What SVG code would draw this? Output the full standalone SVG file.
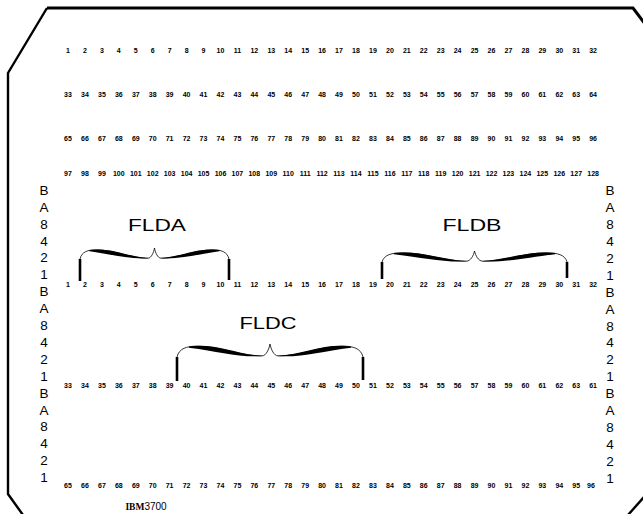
<svg xmlns="http://www.w3.org/2000/svg" xmlns:xlink="http://www.w3.org/1999/xlink" width="643" height="514" viewBox="0 0 643 514">
<style>
.edge{fill:none;stroke:#000;stroke-linejoin:miter}
.n{font-family:"Liberation Sans",Arial,sans-serif;font-size:7px;font-weight:bold;text-anchor:middle;fill:#000}
.l{font-family:"Liberation Sans",Arial,sans-serif;font-size:13.5px;text-anchor:middle;fill:#000}
.f{font-family:"Liberation Sans",Arial,sans-serif;font-size:17px;text-anchor:middle;fill:#000}
.thin{fill:none;stroke:#000;stroke-width:0.8}
.bar{stroke:#000;stroke-width:2.6}
</style>
<defs>
<g id="brace">
<path class="thin" vector-effect="non-scaling-stroke" d="M0,12 C2,4 10,2 20,2 C45,2 60,11 85,11 C89,11 92,5 93,0 C94,5 97,11 101,11 C126,11 141,2 166,2 C176,2 184,4 186,12"/>
<path d="M12,2.2 C38,-1 58,9 86,11.2 C60,12.5 42,7 12,3.4 Z"/>
<path d="M174,2.2 C148,-1 128,9 100,11.2 C126,12.5 144,7 174,3.4 Z"/>
</g>
</defs>
<rect width="643" height="514" fill="#fff"/>
<g id="card">
<path class="edge" stroke-width="3" d="M47,8 L633,8 L645,24"/>
<path class="edge" stroke-width="2.4" d="M47,8 L8,73 L8,494 L23,515"/>
<path class="edge" stroke-width="2.4" d="M628,515 L644,497"/>
</g>
<g id="rows">
<text class="n" y="52.5"><tspan x="68">1</tspan><tspan x="84.9">2</tspan><tspan x="101.9">3</tspan><tspan x="118.8">4</tspan><tspan x="135.8">5</tspan><tspan x="152.7">6</tspan><tspan x="169.6">7</tspan><tspan x="186.6">8</tspan><tspan x="203.5">9</tspan><tspan x="220.5">10</tspan><tspan x="237.4">11</tspan><tspan x="254.3">12</tspan><tspan x="271.3">13</tspan><tspan x="288.2">14</tspan><tspan x="305.2">15</tspan><tspan x="322.1">16</tspan><tspan x="339">17</tspan><tspan x="356">18</tspan><tspan x="372.9">19</tspan><tspan x="389.9">20</tspan><tspan x="406.8">21</tspan><tspan x="423.7">22</tspan><tspan x="440.7">23</tspan><tspan x="457.6">24</tspan><tspan x="474.6">25</tspan><tspan x="491.5">26</tspan><tspan x="508.4">27</tspan><tspan x="525.4">28</tspan><tspan x="542.3">29</tspan><tspan x="559.3">30</tspan><tspan x="576.2">31</tspan><tspan x="593.1">32</tspan></text>
<text class="n" y="96.5"><tspan x="68">33</tspan><tspan x="84.9">34</tspan><tspan x="101.9">35</tspan><tspan x="118.8">36</tspan><tspan x="135.8">37</tspan><tspan x="152.7">38</tspan><tspan x="169.6">39</tspan><tspan x="186.6">40</tspan><tspan x="203.5">41</tspan><tspan x="220.5">42</tspan><tspan x="237.4">43</tspan><tspan x="254.3">44</tspan><tspan x="271.3">45</tspan><tspan x="288.2">46</tspan><tspan x="305.2">47</tspan><tspan x="322.1">48</tspan><tspan x="339">49</tspan><tspan x="356">50</tspan><tspan x="372.9">51</tspan><tspan x="389.9">52</tspan><tspan x="406.8">53</tspan><tspan x="423.7">54</tspan><tspan x="440.7">55</tspan><tspan x="457.6">56</tspan><tspan x="474.6">57</tspan><tspan x="491.5">58</tspan><tspan x="508.4">59</tspan><tspan x="525.4">60</tspan><tspan x="542.3">61</tspan><tspan x="559.3">62</tspan><tspan x="576.2">63</tspan><tspan x="593.1">64</tspan></text>
<text class="n" y="140.5"><tspan x="68">65</tspan><tspan x="84.9">66</tspan><tspan x="101.9">67</tspan><tspan x="118.8">68</tspan><tspan x="135.8">69</tspan><tspan x="152.7">70</tspan><tspan x="169.6">71</tspan><tspan x="186.6">72</tspan><tspan x="203.5">73</tspan><tspan x="220.5">74</tspan><tspan x="237.4">75</tspan><tspan x="254.3">76</tspan><tspan x="271.3">77</tspan><tspan x="288.2">78</tspan><tspan x="305.2">79</tspan><tspan x="322.1">80</tspan><tspan x="339">81</tspan><tspan x="356">82</tspan><tspan x="372.9">83</tspan><tspan x="389.9">84</tspan><tspan x="406.8">85</tspan><tspan x="423.7">86</tspan><tspan x="440.7">87</tspan><tspan x="457.6">88</tspan><tspan x="474.6">89</tspan><tspan x="491.5">90</tspan><tspan x="508.4">91</tspan><tspan x="525.4">92</tspan><tspan x="542.3">93</tspan><tspan x="559.3">94</tspan><tspan x="576.2">95</tspan><tspan x="593.1">96</tspan></text>
<text class="n" y="175.5"><tspan x="68">97</tspan><tspan x="84.9">98</tspan><tspan x="101.9">99</tspan><tspan x="118.8">100</tspan><tspan x="135.8">101</tspan><tspan x="152.7">102</tspan><tspan x="169.6">103</tspan><tspan x="186.6">104</tspan><tspan x="203.5">105</tspan><tspan x="220.5">106</tspan><tspan x="237.4">107</tspan><tspan x="254.3">108</tspan><tspan x="271.3">109</tspan><tspan x="288.2">110</tspan><tspan x="305.2">111</tspan><tspan x="322.1">112</tspan><tspan x="339">113</tspan><tspan x="356">114</tspan><tspan x="372.9">115</tspan><tspan x="389.9">116</tspan><tspan x="406.8">117</tspan><tspan x="423.7">118</tspan><tspan x="440.7">119</tspan><tspan x="457.6">120</tspan><tspan x="474.6">121</tspan><tspan x="491.5">122</tspan><tspan x="508.4">123</tspan><tspan x="525.4">124</tspan><tspan x="542.3">125</tspan><tspan x="559.3">126</tspan><tspan x="576.2">127</tspan><tspan x="593.1">128</tspan></text>
<text class="n" y="286.5"><tspan x="68">1</tspan><tspan x="84.9">2</tspan><tspan x="101.9">3</tspan><tspan x="118.8">4</tspan><tspan x="135.8">5</tspan><tspan x="152.7">6</tspan><tspan x="169.6">7</tspan><tspan x="186.6">8</tspan><tspan x="203.5">9</tspan><tspan x="220.5">10</tspan><tspan x="237.4">11</tspan><tspan x="254.3">12</tspan><tspan x="271.3">13</tspan><tspan x="288.2">14</tspan><tspan x="305.2">15</tspan><tspan x="322.1">16</tspan><tspan x="339">17</tspan><tspan x="356">18</tspan><tspan x="372.9">19</tspan><tspan x="389.9">20</tspan><tspan x="406.8">21</tspan><tspan x="423.7">22</tspan><tspan x="440.7">23</tspan><tspan x="457.6">24</tspan><tspan x="474.6">25</tspan><tspan x="491.5">26</tspan><tspan x="508.4">27</tspan><tspan x="525.4">28</tspan><tspan x="542.3">29</tspan><tspan x="559.3">30</tspan><tspan x="576.2">31</tspan><tspan x="593.1">32</tspan></text>
<text class="n" y="387.5"><tspan x="68">33</tspan><tspan x="84.9">34</tspan><tspan x="101.9">35</tspan><tspan x="118.8">36</tspan><tspan x="135.8">37</tspan><tspan x="152.7">38</tspan><tspan x="169.6">39</tspan><tspan x="186.6">40</tspan><tspan x="203.5">41</tspan><tspan x="220.5">42</tspan><tspan x="237.4">43</tspan><tspan x="254.3">44</tspan><tspan x="271.3">45</tspan><tspan x="288.2">46</tspan><tspan x="305.2">47</tspan><tspan x="322.1">48</tspan><tspan x="339">49</tspan><tspan x="356">50</tspan><tspan x="372.9">51</tspan><tspan x="389.9">52</tspan><tspan x="406.8">53</tspan><tspan x="423.7">54</tspan><tspan x="440.7">55</tspan><tspan x="457.6">56</tspan><tspan x="474.6">57</tspan><tspan x="491.5">58</tspan><tspan x="508.4">59</tspan><tspan x="525.4">60</tspan><tspan x="542.3">61</tspan><tspan x="559.3">62</tspan><tspan x="576.2">63</tspan><tspan x="593.1">61</tspan></text>
<text class="n" y="487.5"><tspan x="68">65</tspan><tspan x="84.9">66</tspan><tspan x="101.9">67</tspan><tspan x="118.8">68</tspan><tspan x="135.8">69</tspan><tspan x="152.7">70</tspan><tspan x="169.6">71</tspan><tspan x="186.6">72</tspan><tspan x="203.5">73</tspan><tspan x="220.5">74</tspan><tspan x="237.4">75</tspan><tspan x="254.3">76</tspan><tspan x="271.3">77</tspan><tspan x="288.2">78</tspan><tspan x="305.2">79</tspan><tspan x="322.1">80</tspan><tspan x="339">81</tspan><tspan x="356">82</tspan><tspan x="372.9">83</tspan><tspan x="389.9">84</tspan><tspan x="406.8">85</tspan><tspan x="423.7">86</tspan><tspan x="440.7">87</tspan><tspan x="457.6">88</tspan><tspan x="474.6">89</tspan><tspan x="491.5">90</tspan><tspan x="508.4">91</tspan><tspan x="525.4">92</tspan><tspan x="542.3">93</tspan><tspan x="559.3">94</tspan><tspan x="576.2">95</tspan><tspan x="591">96</tspan></text>
</g>
<g id="labels-left">
<text class="l" x="44" y="194.8">B</text><text class="l" x="44" y="211.7">A</text><text class="l" x="44" y="228.6">8</text><text class="l" x="44" y="245.5">4</text><text class="l" x="44" y="262.4">2</text><text class="l" x="44" y="279.3">1</text>
<text class="l" x="44" y="296.2">B</text><text class="l" x="44" y="313.1">A</text><text class="l" x="44" y="330">8</text><text class="l" x="44" y="346.9">4</text><text class="l" x="44" y="363.8">2</text><text class="l" x="44" y="380.7">1</text>
<text class="l" x="44" y="397.6">B</text><text class="l" x="44" y="414.5">A</text><text class="l" x="44" y="431.4">8</text><text class="l" x="44" y="448.3">4</text><text class="l" x="44" y="465.2">2</text><text class="l" x="44" y="482.1">1</text>
</g>
<g id="labels-right">
<text class="l" x="610" y="195.3">B</text><text class="l" x="610" y="212.2">A</text><text class="l" x="610" y="229.1">8</text><text class="l" x="610" y="246">4</text><text class="l" x="610" y="262.9">2</text><text class="l" x="610" y="279.8">1</text>
<text class="l" x="610" y="296.7">B</text><text class="l" x="610" y="313.6">A</text><text class="l" x="610" y="330.5">8</text><text class="l" x="610" y="347.4">4</text><text class="l" x="610" y="364.3">2</text><text class="l" x="610" y="381.2">1</text>
<text class="l" x="610" y="398.1">B</text><text class="l" x="610" y="415">A</text><text class="l" x="610" y="431.9">8</text><text class="l" x="610" y="448.8">4</text><text class="l" x="610" y="465.7">2</text><text class="l" x="610" y="482.6">1</text>
</g>
<g id="FLDA">
<text class="f" x="157" y="231" textLength="58" lengthAdjust="spacingAndGlyphs">FLDA</text>
<use xlink:href="#brace" href="#brace" transform="translate(80,248) scale(0.801,0.92)"/>
<line class="bar" x1="80" y1="259" x2="80" y2="281"/>
<line class="bar" x1="229" y1="259" x2="229" y2="280"/>
</g>
<g id="FLDB">
<text class="f" x="472" y="231" textLength="59" lengthAdjust="spacingAndGlyphs">FLDB</text>
<use xlink:href="#brace" href="#brace" transform="translate(382,251) scale(0.995,0.92)"/>
<line class="bar" x1="382" y1="262" x2="382" y2="279"/>
<line class="bar" x1="567" y1="262" x2="567" y2="278"/>
</g>
<g id="FLDC">
<text class="f" x="268" y="329" textLength="57" lengthAdjust="spacingAndGlyphs">FLDC</text>
<use xlink:href="#brace" href="#brace" transform="translate(177,344) scale(1,1.08)"/>
<line class="bar" x1="177" y1="357" x2="177" y2="381"/>
<line class="bar" x1="363" y1="357" x2="363" y2="380"/>
</g>
<g id="caption">
<text x="146" y="510" text-anchor="middle" font-size="10" fill="#000"><tspan font-family="'Liberation Serif',serif" font-weight="bold" font-size="9.5">IBM</tspan><tspan font-family="'Liberation Sans',Arial,sans-serif">3700</tspan></text>
</g>
</svg>
